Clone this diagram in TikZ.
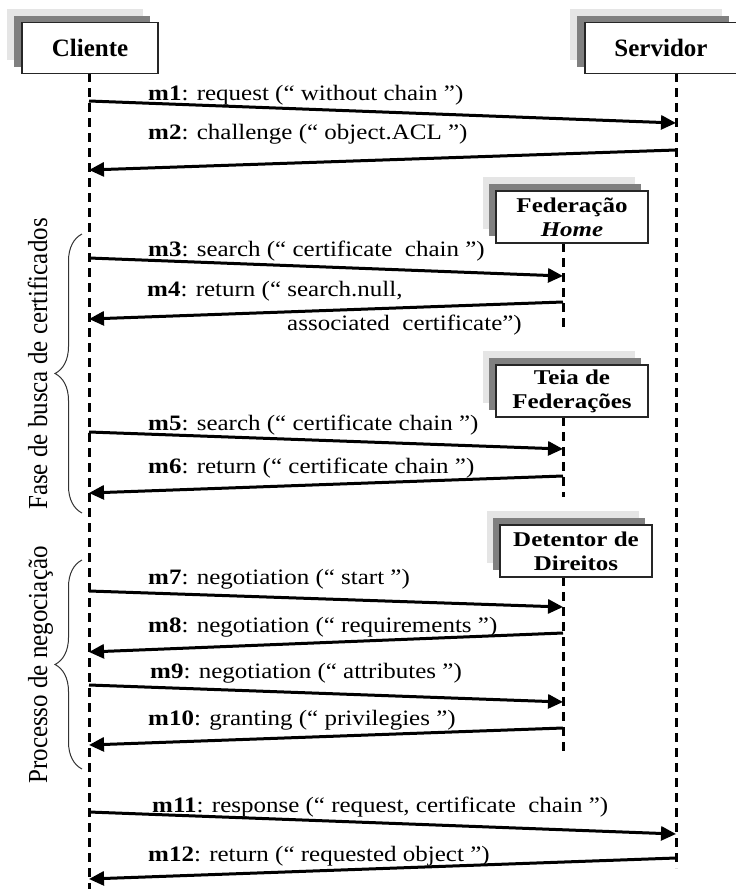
\documentclass[tikz,border=0pt]{standalone}
\usepackage{fontspec}
\setmainfont{Liberation Serif}
\usetikzlibrary{arrows.meta,shadows,decorations.pathreplacing}
\begin{document}
\begin{tikzpicture}[x=1pt,y=-1pt,
  every node/.style={font=\fontsize{25}{23}\selectfont},
  actor/.style={draw=black!85, line width=1.3pt, fill=white, minimum height=51pt,
    inner sep=0pt, align=center, font={\fontsize{25}{23}\selectfont\bfseries},
    general shadow={fill=black!10, shadow xshift=-15pt, shadow yshift=14pt},
    general shadow={fill=black!50, shadow xshift=-8pt, shadow yshift=7pt}},
  actorw/.style={draw=black!85, line width=1.3pt, fill=white, xscale=1.19,
    minimum height=52pt, minimum width=127.7pt,
    inner sep=0pt, align=center, font={\fontsize{21}{24}\selectfont\bfseries},
    general shadow={fill=black!10, shadow xshift=-12.6pt, shadow yshift=14pt},
    general shadow={fill=black!50, shadow xshift=-6.7pt, shadow yshift=7pt}},
  life/.style={line width=3pt, dash pattern=on 9pt off 6pt},
  msg/.style={line width=3pt, -{Triangle[length=15pt,width=14pt]}},
  lbl/.style={anchor=base west, inner sep=0pt, xscale=1.136, font=\fontsize{22}{23}\selectfont},
  brc/.style={decorate, decoration={brace, amplitude=27pt}, line width=1pt, black!80},
  phase/.style={rotate=90, yscale=1.1, anchor=base, inner sep=0pt}]
\useasboundingbox (0,0) rectangle (736,889);

% lifeline end points
\coordinate (clT) at (89,73);   \coordinate (clB) at (89,889);
\coordinate (svT) at (676,73);  \coordinate (svB) at (676,868);
\coordinate (feT) at (563,243); \coordinate (feB) at (563,328);
\coordinate (teT) at (563,417); \coordinate (teB) at (563,497);
\coordinate (deT) at (563,577); \coordinate (deB) at (563,752);

\draw[life] (clT) -- (clB);
\draw[life] (svT) -- (svB);
\draw[life] (feT) -- (feB);
\draw[life] (teT) -- (teB);
\draw[life] (deT) -- (deB);

% actors
\node[actor, minimum width=136pt] (cliente) at (90,48) {Cliente};
\node[actor, minimum width=152pt] (servidor) at (661,48) {Servidor};
\node[actorw] (fed) at (572,217) {Federação\\\textit{Home}};
\node[actorw] (teia) at (572,391) {Teia de\\Federações};
\node[actorw] (det) at (576,551) {Detentor de\\Direitos};

% message end points
\coordinate (m1a) at (89,101);  \coordinate (m1b) at (676,123);
\coordinate (m2a) at (676,150); \coordinate (m2b) at (89,170);
\coordinate (m3a) at (89,258);  \coordinate (m3b) at (563,276);
\coordinate (m4a) at (563,302); \coordinate (m4b) at (89,319);
\coordinate (m5a) at (89,432);  \coordinate (m5b) at (563,449);
\coordinate (m6a) at (563,476); \coordinate (m6b) at (89,493);
\coordinate (m7a) at (89,591);  \coordinate (m7b) at (563,607);
\coordinate (m8a) at (563,633); \coordinate (m8b) at (89,652);
\coordinate (m9a) at (89,685);  \coordinate (m9b) at (563,702);
\coordinate (m10a) at (563,728); \coordinate (m10b) at (89,745);
\coordinate (m11a) at (89,812); \coordinate (m11b) at (676,834);
\coordinate (m12a) at (676,858); \coordinate (m12b) at (89,879);

\draw[msg] (m1a) -- (m1b);
\draw[msg] (m2a) -- (m2b);
\draw[msg] (m3a) -- (m3b);
\draw[msg] (m4a) -- (m4b);
\draw[msg] (m5a) -- (m5b);
\draw[msg] (m6a) -- (m6b);
\draw[msg] (m7a) -- (m7b);
\draw[msg] (m8a) -- (m8b);
\draw[msg] (m9a) -- (m9b);
\draw[msg] (m10a) -- (m10b);
\draw[msg] (m11a) -- (m11b);
\draw[msg] (m12a) -- (m12b);

% labels
\node[lbl] (l1) at (148,100) {\textbf{m1}: request (“ without chain ”)};
\node[lbl] (l2) at (148,139) {\textbf{m2}: challenge (“ object.ACL ”)};
\node[lbl] (l3) at (148,256) {\textbf{m3}: search (“ certificate\ \ chain ”)};
\node[lbl] (l4) at (147,296) {\textbf{m4}: return (“ search.null,};
\node[lbl] (l4b) at (287,330) {associated\ \ certificate”)};
\node[lbl] (l5) at (148,430) {\textbf{m5}: search (“ certificate chain ”)};
\node[lbl] (l6) at (148,473) {\textbf{m6}: return (“ certificate chain ”)};
\node[lbl] (l7) at (148,584) {\textbf{m7}: negotiation (“ start ”)};
\node[lbl] (l8) at (148,632) {\textbf{m8}: negotiation (“ requirements ”)};
\node[lbl] (l9) at (150,678) {\textbf{m9}: negotiation (“ attributes ”)};
\node[lbl] (l10) at (148,725) {\textbf{m10}: granting (“ privilegies ”)};
\node[lbl] (l11) at (152,812) {\textbf{m11}: response (“ request, certificate\ \ chain ”)};
\node[lbl] (l12) at (148,861) {\textbf{m12}: return (“ requested object ”)};

% phases
\coordinate (b1t) at (82,234); \coordinate (b1b) at (82,513);
\coordinate (b2t) at (82,560); \coordinate (b2b) at (82,769);
\draw[brc] (b1b) -- (b1t);
\draw[brc] (b2b) -- (b2t);
\node[phase] (p1) at (47,364) {Fase de busca de certificados};
\node[phase] (p2) at (47,665) {Processo de negociação};
\end{tikzpicture}
\end{document}
